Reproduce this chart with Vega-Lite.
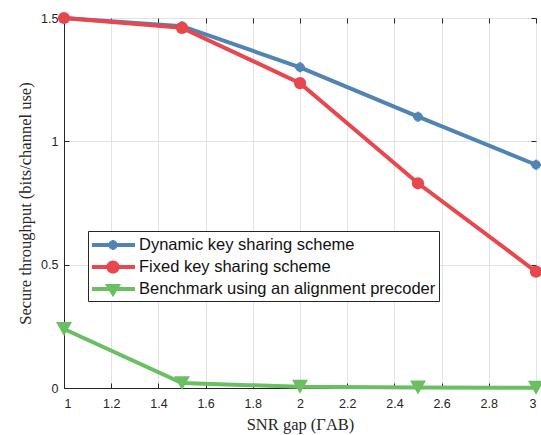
{
  "$schema": "https://vega.github.io/schema/vega-lite/v6.json",
  "width": 472,
  "height": 370,
  "autosize": {"type": "none"},
  "padding": {"left": 64, "top": 18, "right": 5, "bottom": 47},
  "background": "white",
  "config": {
    "view": {"stroke": "#262626", "strokeWidth": 1},
    "axis": {
      "labelFont": "Liberation Sans",
      "labelFontSize": 12.5,
      "labelColor": "#262626",
      "titleFont": "Liberation Serif",
      "titleFontSize": 16.5,
      "titleFontWeight": "normal",
      "titleColor": "#262626",
      "gridColor": "#e3e3e3",
      "gridWidth": 1,
      "domainColor": "#262626",
      "tickColor": "#262626",
      "tickSize": -5
    },
    "legend": {
      "symbolSize": 484,
      "padding": 3,
      "rowPadding": 2,
      "labelOffset": 26,
      "labelFont": "Liberation Sans",
      "labelFontSize": 16.5,
      "labelColor": "#111111",
      "labelLimit": 400,
      "strokeColor": "#262626",
      "fillColor": "white",
      "cornerRadius": 0
    }
  },
  "data": {
    "values": [
      {"series": "Dynamic key sharing scheme", "snr": 1.0, "thr": 1.5},
      {"series": "Dynamic key sharing scheme", "snr": 1.5, "thr": 1.467},
      {"series": "Dynamic key sharing scheme", "snr": 2.0, "thr": 1.30},
      {"series": "Dynamic key sharing scheme", "snr": 2.5, "thr": 1.10},
      {"series": "Dynamic key sharing scheme", "snr": 3.0, "thr": 0.905},
      {"series": "Fixed key sharing scheme", "snr": 1.0, "thr": 1.5},
      {"series": "Fixed key sharing scheme", "snr": 1.5, "thr": 1.46},
      {"series": "Fixed key sharing scheme", "snr": 2.0, "thr": 1.236},
      {"series": "Fixed key sharing scheme", "snr": 2.5, "thr": 0.83},
      {"series": "Fixed key sharing scheme", "snr": 3.0, "thr": 0.472},
      {"series": "Benchmark using an alignment precoder", "snr": 1.0, "thr": 0.239},
      {"series": "Benchmark using an alignment precoder", "snr": 1.5, "thr": 0.02},
      {"series": "Benchmark using an alignment precoder", "snr": 2.0, "thr": 0.005},
      {"series": "Benchmark using an alignment precoder", "snr": 2.5, "thr": 0.002},
      {"series": "Benchmark using an alignment precoder", "snr": 3.0, "thr": 0.001}
    ]
  },
  "layer": [
    {
      "mark": {"type": "line", "strokeWidth": 4},
      "encoding": {
        "x": {
          "field": "snr", "type": "quantitative",
          "scale": {"domain": [1, 3], "nice": false, "zero": false},
          "axis": {"orient": "bottom", "values": [1, 1.2, 1.4, 1.6, 1.8, 2, 2.2, 2.4, 2.6, 2.8, 3], "format": "~g", "labelPadding": 14, "title": "SNR gap (ΓAB)", "titlePadding": 7}
        },
        "y": {
          "field": "thr", "type": "quantitative",
          "scale": {"domain": [0, 1.5], "nice": false},
          "axis": {"orient": "left", "values": [0, 0.5, 1, 1.5], "format": "~g", "labelPadding": 11, "title": "Secure throughput (bits/channel use)", "titlePadding": 7}
        },
        "color": {
          "field": "series", "type": "nominal",
          "scale": {
            "domain": ["Dynamic key sharing scheme", "Fixed key sharing scheme", "Benchmark using an alignment precoder"],
            "range": ["#4F84B4", "#E8474D", "#6BBF63"]
          },
          "legend": {
            "title": null,
            "orient": "none",
            "legendX": 24,
            "legendY": 213,
            "padding": 3,
            "rowPadding": 2,
            "symbolSize": 484,
            "labelOffset": 26,
            "encode": {
              "symbols": {
                "update": {
                  "shape": {"signal": "datum.value === 'Dynamic key sharing scheme' ? 'M-0.91,-0.18H3V0.18H-0.91Z M0.55,-0.14H1.45V0.14H0.55Z M0.86,-0.45H1.14V0.45H0.86Z M0.62,-0.22L0.78,-0.38L1.38,0.22L1.22,0.38Z M1.22,-0.38L1.38,-0.22L0.78,0.38L0.62,0.22Z' : datum.value === 'Fixed key sharing scheme' ? 'M-0.91,-0.18H3V0.18H-0.91Z M1.6,0A0.6,0.6 0 1,1 0.4,0A0.6,0.6 0 1,1 1.6,0Z' : 'M-0.91,-0.18H3V0.18H-0.91Z M0.27,-0.45H1.73L1,0.75Z'"},
                  "size": {"value": 484},
                  "fill": {"scale": "color", "field": "value"},
                  "stroke": {"value": "transparent"},
                  "strokeWidth": {"value": 0},
                  "opacity": {"value": 1},
                  "fillOpacity": {"value": 1}
                }
              }
            }
          }
        }
      }
    },
    {
      "transform": [{"filter": "datum.series === 'Dynamic key sharing scheme'"}],
      "mark": {"type": "point", "filled": true, "opacity": 1, "size": 100, "shape": "M-1,-0.3H1V0.3H-1Z M-0.3,-1H0.3V1H-0.3Z M-0.85,-0.45L-0.45,-0.85L0.85,0.45L0.45,0.85Z M0.45,-0.85L0.85,-0.45L-0.45,0.85L-0.85,0.45Z", "color": "#4F84B4"},
      "encoding": {
        "x": {
          "field": "snr", "type": "quantitative",
          "axis": {"orient": "top", "values": [1, 1.2, 1.4, 1.6, 1.8, 2, 2.2, 2.4, 2.6, 2.8, 3], "labels": false, "grid": false, "domain": false, "title": null}
        },
        "y": {
          "field": "thr", "type": "quantitative",
          "axis": {"orient": "right", "values": [0, 0.5, 1, 1.5], "labels": false, "grid": false, "domain": false, "title": null}
        }
      }
    },
    {
      "transform": [{"filter": "datum.series === 'Fixed key sharing scheme'"}],
      "mark": {"type": "point", "filled": true, "opacity": 1, "size": 150, "shape": "circle", "color": "#E8474D"},
      "encoding": {
        "x": {"field": "snr", "type": "quantitative", "axis": null},
        "y": {"field": "thr", "type": "quantitative", "axis": null}
      }
    },
    {
      "transform": [{"filter": "datum.series === 'Benchmark using an alignment precoder'"}],
      "mark": {"type": "point", "filled": true, "opacity": 1, "size": 256, "shape": "triangle-down", "color": "#6BBF63"},
      "encoding": {
        "x": {"field": "snr", "type": "quantitative", "axis": null},
        "y": {"field": "thr", "type": "quantitative", "axis": null}
      }
    }
  ]
}
